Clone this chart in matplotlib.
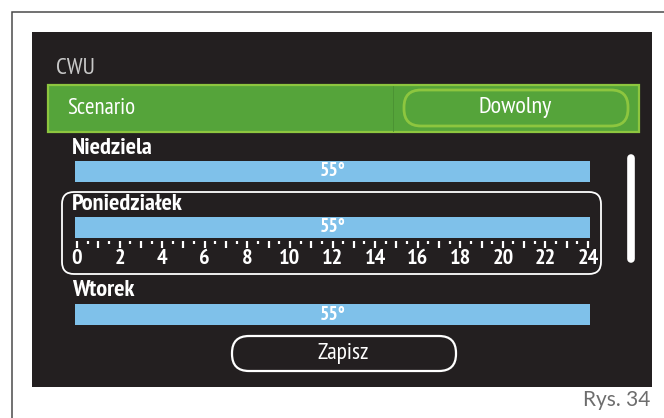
import numpy as np
import matplotlib.pyplot as plt
from matplotlib.patches import Rectangle, FancyBboxPatch

NARROW = ["PT Sans Narrow", "Liberation Sans Narrow", "Liberation Sans", "DejaVu Sans"]
plt.rcParams["font.family"] = NARROW

### ---------- screen content ---------- ###
title = "CWU"
scenario_label = "Scenario"
scenario_value = "Dowolny"
days = ["Niedziela", "Poniedziałek", "Wtorek"]
temps = [55, 55, 55]
hour_labels = list(range(0, 25, 2))
save_label = "Zapisz"
fig_label = "Rys. 34"

# colours
BG = "#231f20"
GREEN = "#55a43a"
GREEN_EDGE = "#8dc63f"
BLUE = "#7fc1ea"
FRAME = "#4a4a4a"

W, H = 664, 418
fig = plt.figure(figsize=(W / 100, H / 100), dpi=100)
ax = fig.add_axes([0, 0, 1, 1])
ax.set_xlim(0, W)
ax.set_ylim(H, 0)
ax.axis("off")


def pill(x0, y0, x1, y1, r, **kw):
    p = FancyBboxPatch((x0, y0), x1 - x0, y1 - y0,
                       boxstyle=f"round,pad=0,rounding_size={r}", **kw)
    ax.add_patch(p)
    return p


# page frame (top and left rule)
ax.plot([12, 12, W], [H, 12, 12], color=FRAME, lw=1.1, solid_joinstyle="miter")

# screen
ax.add_patch(Rectangle((32, 32), 620, 355, color=BG, lw=0))
ax.text(56, 68, title, color="#c8c8c8", fontsize=17, va="center", ha="left")

# scenario row
ax.add_patch(Rectangle((48, 85), 591, 47, facecolor=GREEN, edgecolor=GREEN_EDGE, lw=1.6))
ax.plot([393, 393], [86, 131], color="#4a9032", lw=0.6)
ax.text(67, 109, scenario_label, color="white", fontsize=16.5, va="center")
pill(404, 90, 628, 126, 17, facecolor=GREEN, edgecolor=GREEN_EDGE, lw=2)
ax.text(515, 108, scenario_value, color="white", fontsize=17.5, va="center", ha="center")

# day rows
bar_x0, bar_x1 = 75, 590
label_y = [148, 204, 290]
bar_top = [161, 217, 304]
bar_h = 21
for day, t, ly, by in zip(days, temps, label_y, bar_top):
    ax.text(72, ly, day, color="white", fontsize=17.5, fontweight="bold", va="center")
    ax.add_patch(Rectangle((bar_x0, by), bar_x1 - bar_x0, bar_h, color=BLUE, lw=0))
    ax.text((bar_x0 + bar_x1) / 2, by + bar_h / 2, f"{t}°", color="white",
            fontsize=14, fontweight="bold", va="center", ha="center")

# selected day box with time scale
pill(62, 192, 601, 274, 12, facecolor="none", edgecolor="white", lw=1.3)
hx0, hx1 = 77, 588
hours = np.arange(0, 24.5, 0.5)
hx = hx0 + hours * (hx1 - hx0) / 24
major = hours % 1 == 0
ax.vlines(hx[major], 241, 248, color="white", lw=1.6)
ax.vlines(hx[~major], 241, 244, color="white", lw=1.6)
for h in hour_labels:
    ax.text(hx0 + h * (hx1 - hx0) / 24, 259, str(h), color="white", fontsize=16,
            fontweight="bold", va="center", ha="center")

# scrollbar
ax.plot([631, 631], [158, 259], color="white", lw=5.5, solid_capstyle="round")

# save button
pill(232, 336, 456, 371, 17, facecolor="none", edgecolor="white", lw=1.6)
ax.text(343, 353, save_label, color="white", fontsize=17, va="center", ha="center")

# figure caption
ax.text(650, 400, fig_label, color="#6d6d6d", fontsize=15, va="center", ha="right",
        family=["Lato", "Liberation Sans", "DejaVu Sans"])

fig.savefig("out.png", dpi=100)
